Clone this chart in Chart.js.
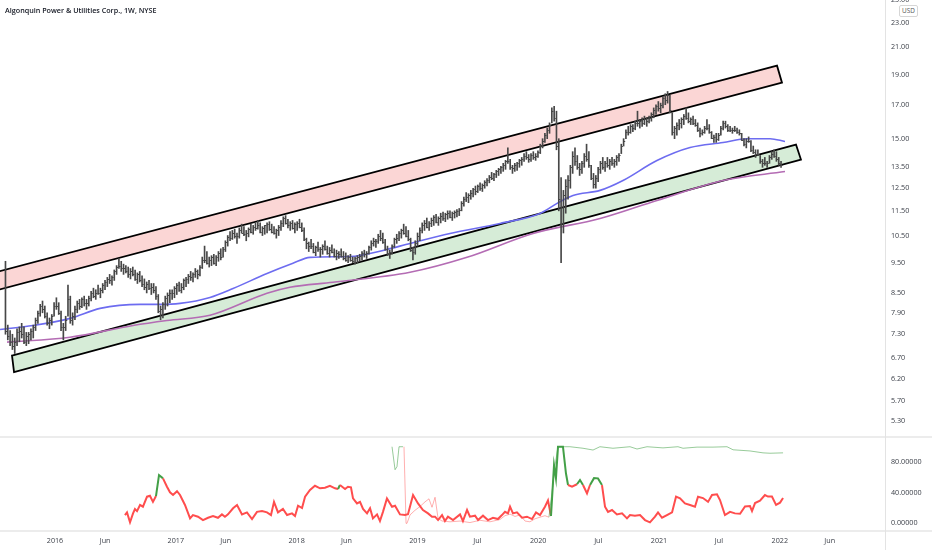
<!DOCTYPE html>
<html><head><meta charset="utf-8">
<script src="https://cdn.jsdelivr.net/npm/chart.js@4.4.1/dist/chart.umd.min.js"></script>
<style>
html,body{margin:0;padding:0;background:#fff;}
#wrap{position:relative;width:932px;height:550px;overflow:hidden;background:#fff;font-family:'Open Sans',sans-serif;}
#main{position:absolute;left:0;top:0;}
#osc{position:absolute;left:0;top:437px;}
.hl{position:absolute;left:0;width:932px;height:2px;background:#ececec;}
.vl{position:absolute;left:885px;top:0;width:1px;height:550px;background:#e3e3e3;}
#title{position:absolute;left:5px;top:5px;font-size:7.2px;font-weight:600;color:#131722;white-space:nowrap;}
#usd{position:absolute;left:899px;top:5px;width:17px;height:10px;border:1px solid #d6d6d6;border-radius:2px;font-size:6.4px;line-height:10px;text-align:center;color:#555;background:#fff;}
</style></head>
<body>
<div id="wrap">
<canvas id="main" width="932" height="437"></canvas>
<canvas id="osc" width="932" height="113"></canvas>
<div class="hl" style="top:436px"></div>
<div class="hl" style="top:530px"></div>
<div class="vl"></div>
<div id="title">Algonquin Power &amp; Utilities Corp., 1W, NYSE</div>
<div id="usd">USD</div>
</div>
<script>
// ---------- DATA ----------
const START_WEEK = 2015.59;          // first weekly bar (decimal year)
const WEEK = 7 / 365.25;
const lows = [7.3,7.15,7.0,6.9,6.8,7.0,7.1,7.2,7.05,7.0,7.05,7.15,7.2,7.4,7.6,7.8,7.9,7.75,7.55,7.45,
7.55,7.8,8.0,7.85,7.4,7.15,7.4,7.8,7.6,7.55,7.7,7.9,8.0,8.05,8.1,8.0,8.1,8.25,8.35,8.3,
8.45,8.35,8.5,8.6,8.7,8.8,8.75,8.9,9.1,9.3,9.2,9.1,9.15,9.0,8.95,9.05,8.9,8.8,8.85,8.7,
8.6,8.5,8.6,8.45,8.5,8.3,7.9,7.7,7.75,8.0,8.1,8.2,8.3,8.35,8.45,8.55,8.5,8.6,8.7,8.8,
8.9,8.85,9.0,8.95,9.05,9.3,9.5,9.45,9.35,9.4,9.45,9.4,9.55,9.6,9.7,9.9,10.1,10.3,10.35,10.4,
10.2,10.4,10.6,10.5,10.3,10.45,10.6,10.55,10.7,10.75,10.6,10.5,10.55,10.6,10.7,10.6,10.55,10.4,10.5,10.7,
10.85,10.95,10.8,10.7,10.75,10.6,10.7,10.8,10.65,10.3,10.0,9.9,10.0,9.85,9.75,9.9,9.7,9.8,9.95,9.8,
9.7,9.85,9.7,9.6,9.65,9.7,9.6,9.55,9.5,9.55,9.5,9.45,9.5,9.55,9.6,9.7,9.65,9.8,9.95,10.1,
10.05,10.2,10.3,10.2,9.95,9.75,9.65,9.8,10.05,10.2,10.3,10.4,10.55,10.45,10.3,9.9,9.6,9.8,10.1,10.3,
10.6,10.7,10.8,10.7,10.85,10.9,11.0,10.9,11.0,11.1,11.05,11.15,11.2,11.1,11.2,11.25,11.3,11.5,11.7,11.9,
11.85,12.0,12.1,12.2,12.3,12.4,12.35,12.5,12.6,12.75,12.9,12.85,13.0,13.1,13.2,13.3,13.4,13.7,13.4,13.2,
13.3,13.35,13.5,13.6,13.8,13.9,13.75,13.8,13.9,13.85,14.0,14.2,14.5,14.8,15.0,15.3,15.9,16.0,14.4,11.5,
9.5,10.6,11.4,12.0,12.5,13.2,13.6,13.4,13.1,13.2,13.5,13.8,13.5,12.9,12.5,12.5,12.8,13.2,13.4,13.3,
13.5,13.4,13.6,13.5,13.6,13.8,14.2,14.6,15.0,15.2,15.3,15.4,15.5,15.7,15.6,15.7,15.8,15.7,15.9,16.0,
16.2,16.4,16.6,16.5,16.8,17.0,17.1,16.5,15.2,15.0,15.2,15.5,15.6,15.8,16.1,15.9,15.8,15.8,15.7,15.4,
15.1,15.2,15.3,15.5,15.3,15.0,14.8,14.8,14.9,15.2,15.5,15.6,15.4,15.4,15.3,15.4,15.3,15.2,14.9,14.6,
14.5,14.8,14.3,14.2,14.0,14.1,13.7,13.5,13.6,13.5,13.7,13.9,14.0,13.8,13.6,13.5];
const highs = [9.55,7.55,7.4,7.3,7.2,7.45,7.5,7.6,7.5,7.35,7.35,7.45,7.55,7.75,7.95,8.15,8.25,8.1,7.9,7.75,
7.85,8.2,8.35,8.2,7.95,7.6,7.8,8.75,8.4,7.9,8.1,8.25,8.3,8.35,8.4,8.3,8.4,8.55,8.65,8.6,
8.75,8.65,8.8,8.9,9.0,9.1,9.05,9.25,9.4,9.65,9.55,9.45,9.4,9.35,9.3,9.35,9.25,9.15,9.2,9.05,
8.95,8.85,8.9,8.8,8.8,8.7,8.45,8.1,8.2,8.4,8.5,8.6,8.6,8.7,8.8,8.85,8.8,8.95,9.0,9.1,
9.2,9.15,9.3,9.25,9.4,9.7,10.1,9.9,9.7,9.75,9.8,9.75,9.9,10.0,10.05,10.3,10.5,10.65,10.7,10.75,
10.6,10.8,10.95,10.85,10.7,10.8,10.95,10.9,11.0,11.1,11.0,10.85,10.9,11.0,11.05,10.95,10.85,10.75,10.9,11.1,
11.25,11.3,11.15,11.05,11.1,11.0,11.05,11.15,11.0,10.8,10.4,10.25,10.35,10.2,10.1,10.25,10.05,10.15,10.3,10.1,
10.05,10.15,10.0,9.95,9.9,10.0,9.9,9.85,9.75,9.8,9.7,9.7,9.75,9.8,9.9,9.95,9.9,10.1,10.3,10.4,
10.35,10.55,10.7,10.6,10.35,10.1,9.95,10.15,10.4,10.55,10.65,10.75,10.95,10.85,10.7,10.4,10.05,10.3,10.6,10.8,
11.0,11.1,11.2,11.05,11.2,11.3,11.35,11.25,11.4,11.45,11.4,11.5,11.5,11.45,11.5,11.55,11.6,11.9,12.1,12.3,
12.25,12.4,12.5,12.6,12.65,12.75,12.7,12.85,12.95,13.1,13.25,13.2,13.35,13.45,13.55,13.7,13.85,14.5,13.9,13.6,
13.7,13.75,13.9,14.0,14.2,14.3,14.15,14.2,14.3,14.2,14.35,14.7,15.0,15.3,15.6,15.9,16.8,16.9,16.6,15.0,
13.0,12.4,12.9,13.1,13.6,14.3,14.5,14.1,13.7,13.8,14.2,14.7,14.3,13.6,13.2,13.1,13.5,13.8,14.0,13.8,
14.0,13.9,14.0,13.9,14.1,14.2,14.7,15.0,15.5,15.7,15.8,15.8,16.0,16.6,16.1,16.2,16.3,16.2,16.3,16.5,
16.8,17.0,17.2,17.1,17.5,17.7,17.85,17.6,16.5,15.7,15.9,16.1,16.2,16.4,16.8,16.5,16.2,16.3,16.1,15.9,
15.6,15.5,15.7,16.1,15.8,15.4,15.2,15.3,15.3,15.7,16.0,16.0,15.8,15.7,15.6,15.7,15.6,15.5,15.3,15.0,
15.0,15.1,14.9,14.6,14.4,14.4,14.1,13.9,14.0,13.8,14.1,14.3,14.4,14.3,14.0,13.8];
const closes = [7.4,7.25,7.1,7.0,7.1,7.35,7.4,7.3,7.1,7.25,7.3,7.4,7.5,7.7,7.9,8.1,8.0,7.8,7.6,7.7,
7.8,8.1,8.1,7.9,7.5,7.5,7.7,8.3,7.7,7.8,8.0,8.2,8.1,8.3,8.2,8.2,8.35,8.5,8.4,8.5,
8.5,8.6,8.75,8.85,8.95,8.9,9.0,9.2,9.35,9.4,9.3,9.3,9.2,9.1,9.2,9.1,8.95,9.1,8.9,8.8,
8.7,8.8,8.65,8.7,8.6,8.4,7.95,8.0,8.15,8.35,8.45,8.5,8.5,8.65,8.75,8.6,8.7,8.9,8.95,9.05,
9.0,9.1,9.2,9.1,9.35,9.6,9.6,9.5,9.6,9.7,9.5,9.7,9.85,9.7,10.0,10.25,10.45,10.4,10.6,10.5,
10.5,10.7,10.6,10.55,10.6,10.75,10.65,10.85,10.8,10.9,10.65,10.8,10.9,10.95,10.75,10.65,10.6,10.7,10.85,11.0,
11.2,11.0,10.9,11.0,10.8,10.95,11.0,10.85,10.7,10.35,10.2,10.1,10.1,9.9,10.05,10.0,10.0,10.1,10.0,9.85,
9.95,9.9,9.75,9.85,9.8,9.75,9.65,9.6,9.7,9.6,9.55,9.65,9.7,9.75,9.85,9.8,9.85,10.05,10.2,10.3,
10.3,10.5,10.4,10.25,10.0,9.8,9.9,10.1,10.35,10.4,10.6,10.7,10.6,10.5,10.35,9.95,9.9,10.2,10.5,10.7,
10.9,11.0,10.85,11.0,11.1,11.25,11.05,11.2,11.3,11.2,11.35,11.4,11.25,11.4,11.45,11.5,11.55,11.85,12.0,12.1,
12.2,12.3,12.45,12.35,12.6,12.5,12.65,12.8,12.9,13.05,13.0,13.15,13.3,13.4,13.5,13.6,13.8,13.8,13.5,13.45,
13.6,13.7,13.85,13.9,14.1,14.0,13.9,14.15,14.0,14.1,14.3,14.6,14.9,15.2,15.5,15.8,16.6,16.2,14.6,12.0,
11.0,12.2,12.6,12.9,13.5,14.1,13.8,13.5,13.4,13.7,14.1,13.9,13.6,13.0,12.7,13.0,13.4,13.7,13.5,13.7,
13.6,13.8,13.7,13.8,14.0,14.15,14.6,14.9,15.4,15.4,15.7,15.6,15.9,15.9,16.0,15.9,16.1,16.0,16.2,16.4,
16.7,16.9,16.8,17.0,17.4,17.3,17.6,16.7,15.4,15.6,15.8,15.9,16.1,16.3,16.2,16.0,16.1,15.9,15.8,15.5,
15.3,15.4,15.6,15.6,15.35,15.05,15.1,15.0,15.2,15.6,15.9,15.7,15.5,15.5,15.5,15.5,15.4,15.3,14.95,14.7,
14.9,14.9,14.4,14.3,14.2,14.2,13.8,13.7,13.7,13.7,14.0,14.2,14.1,13.9,13.7,13.6];

// moving averages [decimal year, price]
const maFast = [[2015.545,7.43],[2015.818,7.54],[2016.124,7.74],[2016.373,8.03],[2016.704,8.15],[2016.869,8.15],
[2017.035,8.18],[2017.283,8.36],[2017.474,8.64],[2017.755,9.13],[2017.970,9.48],[2018.111,9.69],[2018.442,9.72],
[2018.715,9.94],[2018.939,10.20],[2019.270,10.58],[2019.684,10.98],[2020.015,11.39],[2020.156,11.82],[2020.288,12.17],
[2020.512,12.40],[2020.702,12.86],[2020.983,13.84],[2021.257,14.52],[2021.530,14.79],[2021.728,15.0],[2021.919,15.0],[2022.043,14.85]];
const maSlow = [[2015.603,7.09],[2016.124,7.22],[2016.646,7.54],[2016.927,7.68],[2017.283,7.83],[2017.755,8.49],
[2017.945,8.68],[2018.301,8.84],[2018.939,9.17],[2019.411,9.69],[2019.957,10.58],[2020.512,11.18],[2020.983,11.95],
[2021.530,12.86],[2022.043,13.29]];

// channel drawings: corners [decimal year, price]
const upperChannel = [[2015.462,9.12],[2021.977,19.63],[2022.018,18.44],[2015.462,8.53]];
const lowerChannel = [[2015.644,6.75],[2022.134,14.68],[2022.175,13.89],[2015.661,6.35]];

// oscillator pane
const oscMain = [[2016.579,10.8],[2016.596,14.3],[2016.621,1.3],[2016.646,13],[2016.662,18.7],[2016.679,16],[2016.704,24],
[2016.728,21.7],[2016.762,34.8],[2016.786,36],[2016.811,28],[2016.836,35.6],[2016.861,63],[2016.894,58.7],[2016.927,47.8],
[2016.952,40.5],[2016.977,37],[2017.010,42],[2017.035,37],[2017.076,24],[2017.118,6.5],[2017.142,10.8],[2017.184,8.7],
[2017.225,4.3],[2017.267,7.3],[2017.308,9.5],[2017.349,7.3],[2017.382,11.7],[2017.407,8.7],[2017.432,11.7],[2017.474,19.6],
[2017.507,24],[2017.548,11.7],[2017.589,14.3],[2017.631,5.6],[2017.672,15],[2017.714,16],[2017.755,14.3],[2017.788,10.8],
[2017.813,28],[2017.846,14.3],[2017.887,18.7],[2017.921,10.8],[2017.962,13],[2017.987,9.5],[2018.012,23],[2018.045,20],
[2018.070,34.8],[2018.111,43.5],[2018.152,49],[2018.194,45.7],[2018.235,46.5],[2018.276,49],[2018.318,45.7],[2018.343,44.8],
[2018.359,50],[2018.401,44.8],[2018.425,47.8],[2018.450,47],[2018.467,32.6],[2018.500,26],[2018.525,28],[2018.550,18.7],
[2018.583,13],[2018.608,19.6],[2018.632,6.5],[2018.666,11.7],[2018.690,3],[2018.715,15],[2018.748,32.6],[2018.790,21.7],
[2018.815,23],[2018.856,11.7],[2018.897,10.8],[2018.922,12],[2018.964,37],[2019.005,26],[2019.046,17.4],[2019.088,13],
[2019.121,8.7],[2019.146,8.7],[2019.171,4.3],[2019.204,10.8],[2019.228,3],[2019.253,8.7],[2019.295,4.3],[2019.353,11.7],
[2019.377,3],[2019.411,17.4],[2019.435,8.7],[2019.477,10],[2019.502,4.3],[2019.543,10],[2019.584,4.3],[2019.626,7.3],
[2019.667,5.6],[2019.700,10.8],[2019.725,15],[2019.750,13],[2019.767,21.7],[2019.791,13],[2019.824,14.3],[2019.866,7.3],
[2019.907,8.7],[2019.949,5.6],[2019.982,14.3],[2020.015,10.8],[2020.056,21.7],[2020.081,30],[2020.106,9.5],[2020.131,76],
[2020.147,58.7],[2020.164,100],[2020.197,100],[2020.205,100],[2020.230,65],[2020.247,50],[2020.280,47.8],[2020.321,51],
[2020.346,56.5],[2020.371,50],[2020.404,39],[2020.429,50],[2020.462,59],[2020.495,58.7],[2020.528,50],[2020.553,21.7],
[2020.578,15],[2020.611,17.4],[2020.652,11.7],[2020.694,13],[2020.735,6.5],[2020.760,10.8],[2020.801,10],[2020.843,10.8],
[2020.884,4.3],[2020.925,1.3],[2020.967,8.7],[2020.992,14.3],[2021.025,7.3],[2021.066,10.8],[2021.108,14.3],[2021.141,34.8],
[2021.174,32.6],[2021.215,26],[2021.257,24],[2021.298,21.7],[2021.323,34.8],[2021.364,33],[2021.406,28],[2021.439,37],
[2021.480,38],[2021.505,30.4],[2021.546,10.8],[2021.588,15],[2021.629,13],[2021.671,12.5],[2021.712,22],[2021.753,22.6],
[2021.770,16],[2021.795,26.5],[2021.836,29.5],[2021.877,37],[2021.902,35],[2021.935,35],[2021.969,24],[2022.002,27],[2022.027,33]];
const oscMainUpSpans = [[2016.836,2016.885],[2018.343,2018.362],[2020.106,2020.247],[2020.321,2020.371],[2020.429,2020.528]];
const oscSignalUpA = [[2018.790,100],[2018.815,70],[2018.831,74],[2018.848,100],[2018.881,100],[2018.889,100]];
const oscSignalDown = [[2018.889,100],[2018.906,0],[2018.914,0],[2018.939,11],[2018.980,17],[2019.022,22],[2019.063,28],
[2019.096,32],[2019.121,21],[2019.146,34],[2019.171,6.5],[2019.204,3],[2019.270,2],[2019.353,3],[2019.435,1],[2019.518,4],
[2019.601,2],[2019.684,5],[2019.725,10],[2019.767,12],[2019.808,9],[2019.849,11],[2019.891,3],[2019.932,2],[2019.974,6],
[2020.015,8],[2020.056,10],[2020.089,8]];
const oscSignalUpB = [[2020.089,8],[2020.114,40],[2020.139,75],[2020.164,100],[2020.263,100],[2020.371,98],[2020.454,95.7],
[2020.511,100],[2020.619,98],[2020.760,100],[2020.818,97],[2020.901,100],[2021.033,98.5],[2021.157,100],[2021.199,98],
[2021.315,99.5],[2021.447,99.5],[2021.563,100],[2021.613,96],[2021.753,94.5],[2021.861,92],[2021.919,91.5],[2022.027,92]];

// axes
const priceTicks = [5.3,5.7,6.2,6.7,7.3,7.9,8.5,9.5,10.5,11.5,12.5,13.5,15,17,19,21,23,25];
const oscTicks = [0,40,80];
const dateTicks = [2016.0,2016.415,2017.0,2017.413,2018.0,2018.413,2019.0,2019.496,2020.0,2020.497,2021.0,2021.496,2022.0,2022.413];
const dateLabels = ['2016','Jun','2017','Jun','2018','Jun','2019','Jul','2020','Jul','2021','Jul','2022','Jun'];
const X_MIN = 2015.5447, X_MAX = 2022.8709;

// ---------- CHARTS ----------
const FONT = {family:"'Open Sans', sans-serif", size:7.2};
const TXT = '#3d414a';
const AXIS_W = 47;
const BAR_COLOR = '#474747';

const weekX = lows.map((_, i) => START_WEEK + i * WEEK);
const priceBars = lows.map((lo, i) => ({x: weekX[i], y: [lo, highs[i]]}));

const channelPlugin = {
  id: 'channels',
  beforeDatasetsDraw(chart) {
    const {ctx, chartArea: a, scales: {x, y}} = chart;
    ctx.save();
    ctx.beginPath(); ctx.rect(a.left, a.top, a.right - a.left, a.bottom - a.top); ctx.clip();
    [[upperChannel, 'rgba(239,83,80,0.24)'], [lowerChannel, 'rgba(76,175,80,0.23)']].forEach(([pts, fill]) => {
      ctx.beginPath();
      pts.forEach(([px, py], i) => {
        const X = x.getPixelForValue(px), Y = y.getPixelForValue(py);
        if (i === 0) ctx.moveTo(X, Y); else ctx.lineTo(X, Y);
      });
      ctx.closePath();
      ctx.fillStyle = fill; ctx.fill();
      ctx.lineWidth = 1.8; ctx.strokeStyle = '#000'; ctx.lineJoin = 'miter'; ctx.stroke();
    });
    ctx.restore();
  }
};

// close ticks of the weekly bars (HLC style)
const closeTickPlugin = {
  id: 'closeTicks',
  afterDatasetsDraw(chart) {
    const {ctx, scales: {x, y}} = chart;
    ctx.save();
    ctx.strokeStyle = BAR_COLOR; ctx.lineWidth = 1;
    ctx.beginPath();
    closes.forEach((c, i) => {
      const X = x.getPixelForValue(weekX[i]), Y = Math.round(y.getPixelForValue(c)) + 0.5;
      ctx.moveTo(X, Y); ctx.lineTo(X + 1.6, Y);
    });
    ctx.stroke();
    ctx.restore();
  }
};

new Chart(document.getElementById('main'), {
  type: 'bar',
  data: {datasets: [
    {type: 'line', data: maSlow, borderColor: '#b46cb4', borderWidth: 1.6, pointRadius: 0, cubicInterpolationMode: 'monotone', order: 2},
    {type: 'line', data: maFast, borderColor: '#6d6cf0', borderWidth: 1.6, pointRadius: 0, cubicInterpolationMode: 'monotone', order: 1},
    {type: 'bar', data: priceBars, backgroundColor: BAR_COLOR, barThickness: 1, grouped: false, order: 0}
  ]},
  options: {
    responsive: false, animation: false, events: [],
    layout: {padding: 0},
    plugins: {legend: {display: false}, tooltip: {enabled: false}},
    scales: {
      x: {type: 'linear', min: X_MIN, max: X_MAX, offset: false, display: false},
      y: {type: 'logarithmic', position: 'right', min: 5, max: 25,
        grid: {display: false, drawTicks: false}, border: {display: false},
        afterBuildTicks: s => { s.ticks = priceTicks.map(v => ({value: v})); },
        afterFit: s => { s.width = AXIS_W; s.paddingTop = 0; s.paddingBottom = 0; },
        ticks: {callback: v => Number(v).toFixed(2), font: FONT, color: TXT, padding: 6, autoSkip: false}
      }
    }
  },
  plugins: [channelPlugin, closeTickPlugin]
});

const UP = '#43a047', DOWN = '#ff4d4d';
const inUp = v => oscMainUpSpans.some(([a, b]) => v >= a && v <= b);

new Chart(document.getElementById('osc'), {
  type: 'line',
  data: {datasets: [
    {data: oscSignalUpA, borderColor: 'rgba(67,160,71,0.55)', borderWidth: 1, pointRadius: 0},
    {data: oscSignalDown, borderColor: 'rgba(255,77,77,0.45)', borderWidth: 1, pointRadius: 0},
    {data: oscSignalUpB, borderColor: 'rgba(67,160,71,0.55)', borderWidth: 1, pointRadius: 0},
    {data: oscMain, borderColor: DOWN, borderWidth: 2, pointRadius: 0,
      segment: {borderColor: c => inUp((c.p0.parsed.x + c.p1.parsed.x) / 2) ? UP : DOWN}}
  ]},
  options: {
    responsive: false, animation: false, events: [],
    layout: {padding: 0},
    plugins: {legend: {display: false}, tooltip: {enabled: false}},
    scales: {
      x: {type: 'linear', min: X_MIN, max: X_MAX, offset: false,
        grid: {display: false, drawTicks: false}, border: {display: false},
        afterBuildTicks: s => { s.ticks = dateTicks.map(v => ({value: v})); },
        afterFit: s => { s.height = 19; s.paddingLeft = 0; s.paddingRight = 0; },
        ticks: {callback: (v, i) => dateLabels[i], font: FONT, color: TXT, padding: 6, autoSkip: false, maxRotation: 0}
      },
      y: {type: 'linear', position: 'right', min: -10, max: 112.7,
        grid: {display: false, drawTicks: false}, border: {display: false},
        afterBuildTicks: s => { s.ticks = oscTicks.map(v => ({value: v})); },
        afterFit: s => { s.width = AXIS_W; s.paddingTop = 0; s.paddingBottom = 0; },
        ticks: {callback: v => Number(v).toFixed(5), font: FONT, color: TXT, padding: 6, autoSkip: false}
      }
    }
  }
});
</script>
</body></html>
